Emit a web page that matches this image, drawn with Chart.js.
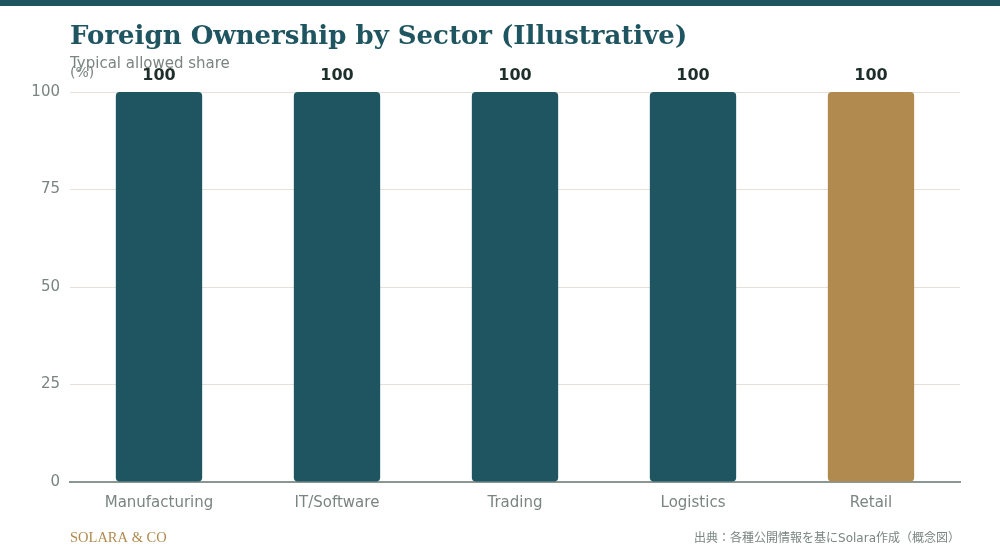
<!DOCTYPE html>
<html>
<head>
<meta charset="utf-8">
<script src="https://cdn.jsdelivr.net/npm/chart.js@4/dist/chart.umd.min.js"></script>
<style>
  html, body { margin: 0; padding: 0; background: #ffffff; }
  #wrap { position: relative; width: 1000px; height: 560px; }
</style>
</head>
<body>
<div id="wrap"><canvas id="myChart" width="1000" height="560"></canvas></div>
<script>
const sectors = ['Manufacturing', 'IT/Software', 'Trading', 'Logistics', 'Retail'];
const allowedShare = [100, 100, 100, 100, 100];
const yTicks = [0, 25, 50, 75, 100];

const teal = '#1f5560';
const gold = '#b08a4e';
const grey = '#7a8580';

// header, footer and value labels drawn on the canvas
const decor = {
    id: 'decor',
    beforeDraw(chart) {
        const ctx = chart.ctx;
        ctx.save();
        ctx.fillStyle = teal;
        ctx.fillRect(0, 0, chart.width, 6);
        ctx.restore();
    },
    afterDraw(chart) {
        const ctx = chart.ctx;
        ctx.save();
        ctx.textAlign = 'left';
        ctx.textBaseline = 'alphabetic';
        ctx.fillStyle = teal;
        ctx.font = 'bold 26px "DejaVu Serif"';
        ctx.fillText('Foreign Ownership by Sector (Illustrative)', 70, 44);
        ctx.fillStyle = grey;
        ctx.font = '15px "DejaVu Sans"';
        ctx.fillText('Typical allowed share', 70, 68);
        ctx.font = '14px "DejaVu Sans"';
        ctx.fillText('(%)', 70, 77);
        ctx.fillStyle = gold;
        ctx.font = '14.5px "Liberation Serif"';
        ctx.fillText('SOLARA & CO', 70, 542);
        ctx.fillStyle = grey;
        ctx.textAlign = 'right';
        ctx.font = '12px "DejaVu Sans", "Noto Sans CJK JP"';
        ctx.fillText('出典：各種公開情報を基にSolara作成（概念図）', 960, 542);
        // values above bars
        const meta = chart.getDatasetMeta(0);
        ctx.fillStyle = '#1e2e2a';
        ctx.textAlign = 'center';
        ctx.font = 'bold 16px "DejaVu Sans"';
        meta.data.forEach((bar, i) => {
            ctx.fillText(String(allowedShare[i]), bar.x, bar.y - 12);
        });
        ctx.restore();
    }
};

const ctx = document.getElementById('myChart').getContext('2d');
const myChart = new Chart(ctx, {
    type: 'bar',
    data: {
        labels: sectors,
        datasets: [{
            data: allowedShare,
            backgroundColor: sectors.map(s => s === 'Retail' ? gold : teal),
            borderRadius: 4,
            borderSkipped: false,
            categoryPercentage: 0.97,
            barPercentage: 0.5
        }]
    },
    options: {
        responsive: false,
        animation: false,
        layout: { padding: { top: 92, right: 40, left: 0, bottom: 0 } },
        plugins: { legend: { display: false }, tooltip: { enabled: false } },
        scales: {
            x: {
                grid: { display: false, drawTicks: false },
                border: { display: true, color: '#8a9690', width: 2 },
                ticks: { color: grey, font: { family: 'DejaVu Sans', size: 15 }, padding: 12 },
                afterFit(scale) { scale.height = 78; }
            },
            y: {
                min: 0,
                max: 100,
                afterBuildTicks(scale) { scale.ticks = yTicks.map(v => ({ value: v })); },
                grid: { color: '#e6e1d8', lineWidth: 1, drawTicks: false },
                border: { display: false },
                ticks: { color: grey, font: { family: 'DejaVu Sans', size: 15 }, padding: 10 },
                afterFit(scale) { scale.width = 70; }
            }
        }
    },
    plugins: [decor]
});
</script>
</body>
</html>
